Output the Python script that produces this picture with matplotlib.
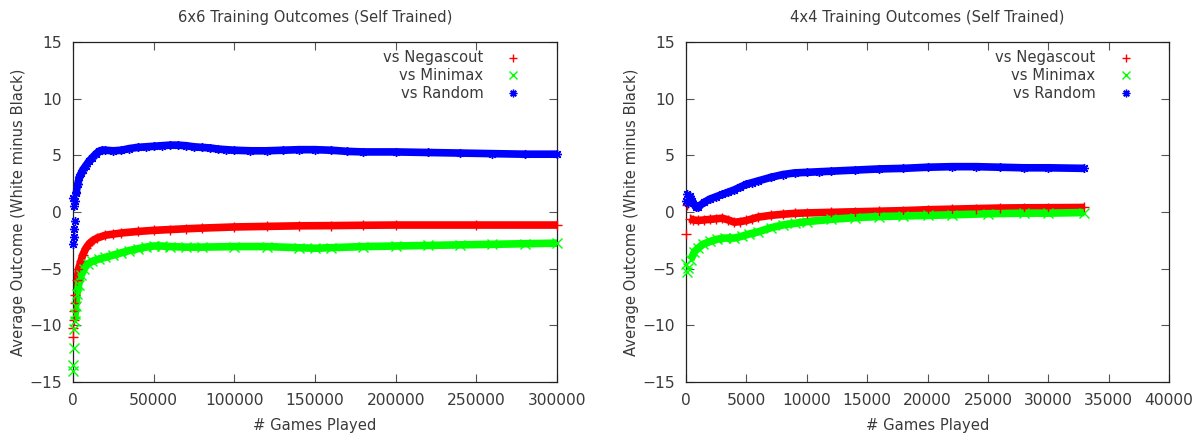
import numpy as np
import matplotlib
matplotlib.use('Agg')
import matplotlib.pyplot as plt

plt.rcParams['font.family'] = 'DejaVu Sans'
plt.rcParams['font.size'] = 10

# --- 6x6 board ---
x6_nega = [0, 300, 600, 900, 1200, 1500, 2500, 3500, 5000, 6000, 8000, 10000, 12000, 15000,
           20000, 25000, 30000, 40000, 50000, 60000, 70000, 80000, 100000, 120000, 140000,
           160000, 180000, 200000, 250000, 300000]
y6_nega = [-11.0, -10.2, -9.5, -8.7, -8.0, -7.3, -6.0, -5.0, -4.3, -3.8, -3.2, -2.8, -2.55, -2.3,
           -2.05, -1.95, -1.85, -1.72, -1.62, -1.55, -1.48, -1.42, -1.32, -1.27, -1.22,
           -1.2, -1.17, -1.15, -1.15, -1.15]

x6_mini = [0, 200, 400, 700, 1000, 1300, 1600, 2500, 3500, 5000, 7000, 9000, 12000, 16000,
           20000, 25000, 30000, 35000, 40000, 45000, 50000, 55000, 60000, 70000, 80000,
           100000, 120000, 140000, 150000, 160000, 180000, 200000, 220000, 240000, 260000,
           280000, 300000]
y6_mini = [-14.0, -13.5, -12.0, -10.3, -9.6, -9.0, -8.3, -7.2, -6.4, -5.6, -5.0, -4.6, -4.35, -4.15,
           -4.0, -3.8, -3.6, -3.4, -3.25, -3.1, -3.0, -3.0, -3.05, -3.1, -3.1,
           -3.05, -3.05, -3.15, -3.2, -3.15, -3.05, -3.0, -2.95, -2.9, -2.85,
           -2.8, -2.75]

x6_rand = [0, 200, 400, 600, 800, 1000, 1300, 1600, 2000, 3000, 4000, 5000, 6000, 8000, 10000,
           12000, 14000, 16000, 18000, 20000, 25000, 30000, 35000, 40000, 45000, 50000, 55000,
           60000, 65000, 70000, 75000, 80000, 85000, 90000, 95000, 100000, 110000, 120000,
           130000, 140000, 150000, 160000, 170000, 180000, 200000, 220000, 240000, 260000,
           280000, 300000]
y6_rand = [-2.8, 1.2, -1.5, -2.2, 0.5, -0.8, 1.0, 1.7, 1.8, 2.5, 3.1, 3.4, 3.7, 4.1, 4.5,
           4.8, 5.1, 5.35, 5.45, 5.45, 5.4, 5.45, 5.6, 5.7, 5.75, 5.8, 5.85,
           5.9, 5.9, 5.85, 5.75, 5.7, 5.65, 5.55, 5.5, 5.45, 5.4, 5.4,
           5.45, 5.5, 5.5, 5.45, 5.35, 5.3, 5.3, 5.25, 5.2, 5.15,
           5.1, 5.1]

# --- 4x4 board ---
x4_nega = [0, 100, 200, 300, 600, 1000, 1500, 2000, 2500, 3000, 3500, 4000, 4500, 5000, 5500,
           6000, 7000, 8000, 9000, 10000, 12000, 14000, 16000, 18000, 20000, 22000, 24000,
           26000, 28000, 30000, 33000]
y4_nega = [-1.95, 0.6, 0.8, -0.6, -0.7, -0.75, -0.7, -0.65, -0.6, -0.55, -0.7, -0.9, -0.85, -0.75, -0.6,
           -0.45, -0.3, -0.2, -0.12, -0.08, -0.03, 0.02, 0.07, 0.12, 0.2, 0.25, 0.3,
           0.35, 0.37, 0.38, 0.4]

x4_mini = [0, 100, 200, 400, 700, 1000, 1400, 2000, 2600, 3200, 4000, 4600, 5200, 6000, 7000,
           8000, 9000, 10000, 12000, 14000, 16000, 18000, 20000, 22000, 25000, 28000, 30000, 33000]
y4_mini = [-4.6, -5.3, -4.9, -4.2, -3.5, -3.2, -2.85, -2.6, -2.4, -2.3, -2.3, -2.15, -1.95, -1.75, -1.4,
           -1.15, -1.0, -0.85, -0.65, -0.5, -0.4, -0.35, -0.3, -0.25, -0.15, -0.1, -0.1, -0.05]

x4_rand = [0, 100, 200, 300, 500, 800, 1000, 1500, 2000, 2500, 3000, 3500, 4000, 4500, 5000,
           5500, 6000, 7000, 8000, 9000, 10000, 11000, 12000, 14000, 16000, 18000, 20000,
           22000, 24000, 26000, 28000, 30000, 33000]
y4_rand = [1.0, 1.6, 0.8, 1.4, 1.0, 0.45, 0.45, 0.85, 1.15, 1.35, 1.55, 1.75, 1.95, 2.2, 2.45,
           2.6, 2.75, 3.05, 3.3, 3.45, 3.5, 3.55, 3.6, 3.7, 3.8, 3.85, 3.95,
           4.0, 4.0, 3.95, 3.9, 3.9, 3.85]

labels = ['vs Negascout', 'vs Minimax', 'vs Random']
colors = ['#ff0000', '#00ff00', '#0000ff']
markers = ['+', 'x', (8, 2, 0)]

TXT = '#3a3a3a'
FS = 10.6      # titles, labels, key
FS_TICK = 11.2


def draw_panel(ax, series, line_start, title, xmax, xstep):
    for (xs, ys), start, c, m in zip(series, line_start, colors, markers):
        xs = np.array(xs)
        ys = np.array(ys)
        keep = xs >= start
        # dense band of points -> thick line plus the point markers
        ax.plot(xs[keep], ys[keep], color=c, lw=5.5, solid_capstyle='butt', zorder=2)
        ax.plot(xs, ys, ls='none', marker=m, ms=6.5, mew=1, color=c, clip_on=False, zorder=3)

    ax.set_xlim(0, xmax)
    ax.set_ylim(-15, 15)
    ax.set_xticks(np.arange(0, xmax + 1, xstep))
    ax.set_yticks(np.arange(-15, 16, 5))
    ax.tick_params(direction='in', length=6, width=0.8, color='#555555',
                   top=True, right=True, labelcolor=TXT, labelsize=FS_TICK, pad=8)
    for s in ax.spines.values():
        s.set_color('#222222')
        s.set_linewidth(0.9)
    ax.set_xlabel('# Games Played', color=TXT, fontsize=FS, labelpad=7)
    ax.set_ylabel('Average Outcome (White minus Black)', color=TXT, fontsize=FS, labelpad=2.5)
    ax.text(0.5, 1.073, title, transform=ax.transAxes, ha='center', va='center',
            color=TXT, fontsize=FS)

    # gnuplot-style key: right-justified text, sample to the right
    for i, (lab, c, m) in enumerate(zip(labels, colors, markers)):
        yk = 0.953 - i * 0.0515
        ax.text(0.848, yk, lab, transform=ax.transAxes, ha='right', va='center',
                color=TXT, fontsize=FS)
        ax.plot([0.91], [yk], transform=ax.transAxes, ls='none', marker=m, ms=5.5, mew=1,
                color=c, clip_on=False)


fig = plt.figure(figsize=(11.98, 4.36), dpi=100)
ax1 = fig.add_axes([73 / 1198, 54 / 436, 484 / 1198, 340 / 436])
ax2 = fig.add_axes([686 / 1198, 54 / 436, 483 / 1198, 340 / 436])

draw_panel(ax1, [(x6_nega, y6_nega), (x6_mini, y6_mini), (x6_rand, y6_rand)],
           [1500, 1000, 1600], '6x6 Training Outcomes (Self Trained)', 300000, 50000)
draw_panel(ax2, [(x4_nega, y4_nega), (x4_mini, y4_mini), (x4_rand, y4_rand)],
           [300, 400, 300], '4x4 Training Outcomes (Self Trained)', 40000, 5000)

fig.savefig('out.png', dpi=100)
